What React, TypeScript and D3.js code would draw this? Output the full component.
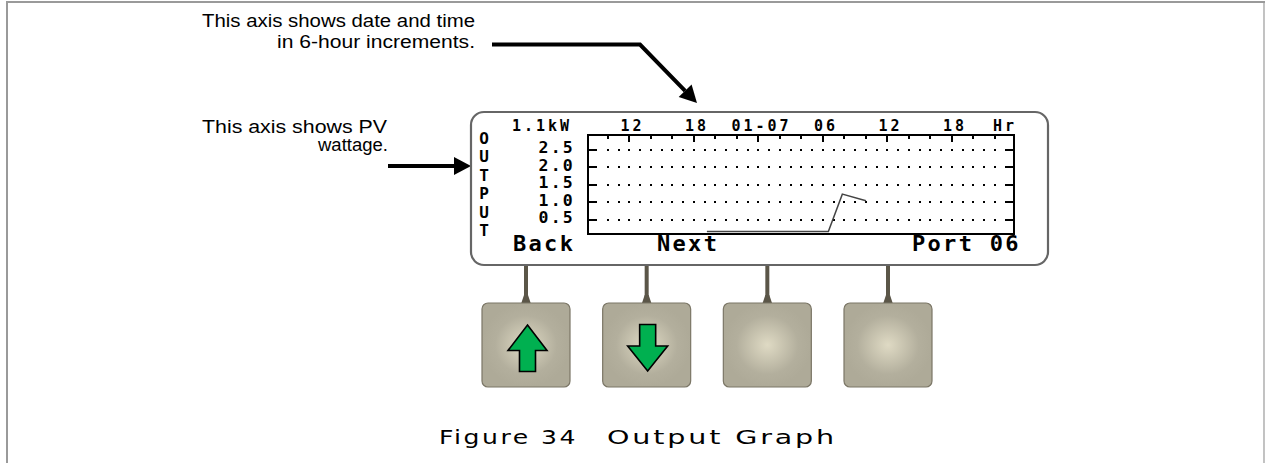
import React from "react";
import * as d3 from "d3";

// PV output trace, hours counted from 01-06 00:00
const hours = [19.2, 30.5, 31.8, 34.0];
const outputKW = [0.16, 0.16, 1.23, 1.04];

const yTickValues = [0.5, 1.0, 1.5, 2.0, 2.5];
const yTickLabels = ["0.5", "1.0", "1.5", "2.0", "2.5"];
const xLabelHours = [12, 18, 24, 30, 36, 42];
const xLabelTexts = ["12", "18", "01-07", "06", "12", "18"];
const scaleLabel = "1.1kW";
const unitLabel = "Hr";
const sideTitle = ["O", "U", "T", "P", "U", "T"];
const softKeys = [
  { label: "Back", x: 513 },
  { label: "Next", x: 657 },
  { label: "Port 06", x: 912 },
];
const buttonArrows = ["up", "down", "", ""];

const W = 1265;
const H = 463;
const lcdFont = "'DejaVu Sans Mono', 'Liberation Mono', monospace";
const sans = "'Liberation Sans', Arial, sans-serif";
const wide = "'DejaVu Sans', Verdana, sans-serif";

const arrowHead = (x1: number, y1: number, x2: number, y2: number, len = 17, half = 9) => {
  const a = Math.atan2(y2 - y1, x2 - x1);
  const bx = x2 - len * Math.cos(a);
  const by = y2 - len * Math.sin(a);
  const px = -Math.sin(a) * half;
  const py = Math.cos(a) * half;
  return { base: [bx, by], pts: `${x2},${y2} ${bx + px},${by + py} ${bx - px},${by - py}` };
};

export default function App() {
  const x = d3.scaleLinear().domain([8.14, 47.77]).range([588, 1014]);
  const y = d3.scaleLinear().domain([0.09, 2.92]).range([234, 135]);

  const dotHours = d3.range(10, 47);
  const tickHours = d3.range(10, 47, 2);

  const line = d3
    .line<number>()
    .x((d, i) => x(hours[i]))
    .y((d) => y(d));

  const buttonX = d3.scalePoint<number>().domain([0, 1, 2, 3]).range([526, 888]);
  const bw = 88;
  const bTop = 303;
  const bh = 84;

  const head1 = arrowHead(640, 44.5, 697, 103);
  const head2 = arrowHead(388, 166, 471, 166);

  return (
    <svg
      width={W}
      height={H}
      style={{ position: "absolute", left: 0, top: 0, background: "#fff" }}
    >
      <defs>
        <radialGradient id="glow" cx="0.5" cy="0.5" r="0.5">
          <stop offset="0" stopColor="#dfdac4" />
          <stop offset="0.7" stopColor="#b3af9d" />
          <stop offset="1" stopColor="#aeaa98" />
        </radialGradient>
      </defs>

      {/* page frame */}
      <path d={`M7,${H} V2 H${W}`} fill="none" stroke="#9a9a9a" strokeWidth={2} />
      <line x1={W - 1} x2={W - 1} y1={2} y2={H} stroke="#9a9a9a" strokeWidth={1.2} />

      {/* annotations */}
      <g fontFamily={sans} fontSize={17.5}>
        <text x={202} y={27} textLength={273} lengthAdjust="spacingAndGlyphs">
          This axis shows date and time
        </text>
        <text x={277} y={47.5} textLength={198} lengthAdjust="spacingAndGlyphs">
          in 6-hour increments.
        </text>
        <text x={202} y={133} textLength={185} lengthAdjust="spacingAndGlyphs">
          This axis shows PV
        </text>
        <text x={318} y={150.5} textLength={70} lengthAdjust="spacingAndGlyphs">
          wattage.
        </text>
      </g>
      <polyline
        points={`492,44.5 640,44.5 ${head1.base[0]},${head1.base[1]}`}
        fill="none"
        stroke="#000"
        strokeWidth={4}
      />
      <polygon points={head1.pts} fill="#000" />
      <line x1={388} y1={166} x2={head2.base[0]} y2={166} stroke="#000" strokeWidth={4} />
      <polygon points={head2.pts} fill="#000" />

      {/* stems to buttons */}
      {buttonArrows.map((_, i) => {
        const cx = buttonX(i) as number;
        return (
          <g key={"s" + i} fill="#5b5648">
            <rect x={cx - 2} y={264} width={4} height={36} />
            <polygon points={`${cx - 2},295 ${cx + 2},295 ${cx + 5},${bTop + 1} ${cx - 5},${bTop + 1}`} />
          </g>
        );
      })}

      {/* LCD */}
      <rect x={471} y={112} width={577} height={153} rx={13} fill="#fff" stroke="#666" strokeWidth={2.2} />

      <g fontFamily={lcdFont} fontWeight="bold" fill="#000">
        {sideTitle.map((c, i) => (
          <text key={"o" + i} x={484} y={143.5 + i * 18.5} fontSize={16} textAnchor="middle">
            {c}
          </text>
        ))}
        <text x={512} y={131} fontSize={15} letterSpacing={3}>
          {scaleLabel}
        </text>
        {xLabelHours.map((h, i) => (
          <text key={"xl" + i} x={x(h) + 3} y={131} fontSize={15} letterSpacing={3} textAnchor="middle">
            {xLabelTexts[i]}
          </text>
        ))}
        <text x={1005} y={131} fontSize={15} letterSpacing={3} textAnchor="middle">
          {unitLabel}
        </text>
        {yTickValues.map((v, i) => (
          <text key={"yl" + i} x={575} y={y(v) + 3.5} fontSize={16.5} letterSpacing={2.2} textAnchor="end">
            {yTickLabels[i]}
          </text>
        ))}
        {softKeys.map((k) => (
          <text key={k.label} x={k.x} y={251} fontSize={22} letterSpacing={2.3}>
            {k.label}
          </text>
        ))}
      </g>

      {/* plot grid */}
      {yTickValues.map((v) =>
        dotHours.map((h) => (
          <rect
            key={`d${v}-${h}`}
            x={Math.round(x(h)) - 1}
            y={Math.round(y(v)) - 1}
            width={2}
            height={2}
            fill="#000"
          />
        ))
      )}
      {yTickValues.map((v) => (
        <g key={"t" + v} stroke="#000" strokeWidth={2}>
          <line x1={588} x2={597} y1={Math.round(y(v))} y2={Math.round(y(v))} />
          <line x1={1005} x2={1014} y1={Math.round(y(v))} y2={Math.round(y(v))} />
        </g>
      ))}
      {tickHours.map((h) => (
        <line
          key={"xt" + h}
          x1={Math.round(x(h))}
          x2={Math.round(x(h))}
          y1={135}
          y2={135 + (h % 6 === 0 ? 7 : 4)}
          stroke="#000"
          strokeWidth={2}
        />
      ))}
      <rect x={588} y={135} width={426} height={99} fill="none" stroke="#000" strokeWidth={2} />

      {/* data */}
      <path d={line(outputKW) || ""} fill="none" stroke="#444" strokeWidth={1.5} />

      {/* buttons */}
      {buttonArrows.map((a, i) => {
        const cx = buttonX(i) as number;
        const left = cx - bw / 2;
        let arrow = null;
        if (a === "up") {
          const ax = cx + 1.5;
          arrow = (
            <polygon
              points={`${ax},325 ${ax + 19.5},350.5 ${ax + 8},350.5 ${ax + 8},371.5 ${ax - 8},371.5 ${ax - 8},350.5 ${ax - 19.5},350.5`}
              fill="#00b050"
              stroke="#000"
              strokeWidth={1.6}
            />
          );
        } else if (a === "down") {
          const ax = cx + 1;
          arrow = (
            <polygon
              points={`${ax - 8},324.5 ${ax + 8},324.5 ${ax + 8},346 ${ax + 20},346 ${ax},371 ${ax - 20},346 ${ax - 8},346`}
              fill="#00b050"
              stroke="#000"
              strokeWidth={1.6}
            />
          );
        }
        return (
          <g key={"b" + i}>
            <rect x={left} y={bTop} width={bw} height={bh} rx={6} fill="url(#glow)" stroke="#7b7666" strokeWidth={1.2} />
            {arrow}
          </g>
        );
      })}

      {/* caption */}
      <g fontFamily={wide} fontSize={20} letterSpacing={2}>
        <text x={439} y={443.5} textLength={139} lengthAdjust="spacingAndGlyphs">
          Figure 34
        </text>
        <text x={607} y={443.5} textLength={230} lengthAdjust="spacingAndGlyphs">
          Output Graph
        </text>
      </g>
    </svg>
  );
}
